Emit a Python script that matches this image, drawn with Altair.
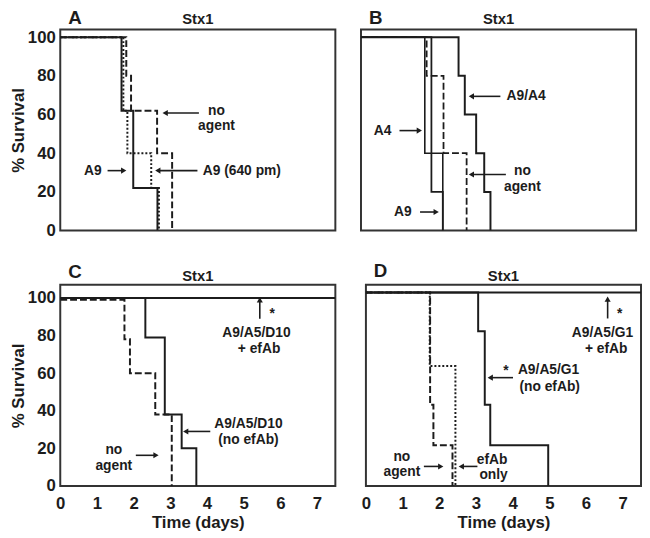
import altair as alt
import pandas as pd

# ---------------- data ----------------
# Panel A
A_a9_t = [0, 1.67, 1.99, 2.65]
A_a9_s = [100, 62, 22, 0]
A_a9_640_t = [0, 1.72, 1.83, 2.48, 2.69]
A_a9_640_s = [100, 62, 40, 22, 0]
A_noagent_t = [0, 1.80, 1.93, 2.64, 3.05]
A_noagent_s = [100, 80, 62, 40, 0]

# Panel B
B_a4_t = [0, 1.74, 2.23]
B_a4_s = [100, 40, 0]
B_a9_t = [0, 1.92, 2.23]
B_a9_s = [100, 20, 0]
B_noagent_t = [0, 1.79, 2.25, 2.88]
B_noagent_s = [100, 80, 40, 0]
B_a9a4_t = [0, 2.66, 2.83, 3.14, 3.36, 3.53]
B_a9a4_s = [100, 80, 60, 40, 20, 0]

# Panel C
C_efab_t = [0, 7.5]
C_efab_s = [100, 100]
C_noefab_t = [0, 2.32, 2.85, 3.31, 3.71]
C_noefab_s = [100, 79, 38, 20, 0]
C_noagent_t = [0, 1.75, 1.90, 2.59, 3.04]
C_noagent_s = [99, 78, 60, 38, 0]

# Panel D
D_efab_t = [0, 7.5]
D_efab_s = [100, 100]
D_noefab_t = [0, 3.06, 3.24, 3.39, 4.97]
D_noefab_s = [100, 80, 42, 21, 0]
D_noagent_t = [0, 1.75, 1.84, 2.36]
D_noagent_s = [100, 42, 21, 0]
D_efabonly_t = [0, 1.74, 2.44]
D_efabonly_s = [100, 62, 0]

x_ticks = [0, 1, 2, 3, 4, 5, 6, 7]
y_ticks = [0, 20, 40, 60, 80, 100]
panel_title = "Stx1"

# annotation labels (text, day, % survival)
A_labels = [("no", 4.26, 62), ("agent", 4.26, 54), ("A9", 0.89, 31), ("A9 (640 pm)", 4.95, 31)]
A_arrows = [(3.78, 60.8, 2.86, 60.8), (1.29, 31, 1.73, 31), (3.74, 31, 2.66, 31)]
B_labels = [("A9/A4", 4.50, 69.4), ("no", 4.40, 30.6), ("agent", 4.40, 22.5), ("A4", 0.59, 51.7), ("A9", 1.14, 9.6)]
B_arrows = [(3.80, 69.4, 3.01, 69.4), (3.95, 29, 3.01, 29), (1.05, 51.7, 1.59, 51.7), (1.61, 9.6, 2.05, 9.6)]
C_labels = [("*", 5.78, 91.5), ("A9/A5/D10", 5.35, 81.3), ("+ efAb", 5.42, 72.7),
            ("A9/A5/D10", 5.13, 32.9), ("(no efAb)", 5.13, 24.2), ("no", 1.46, 19), ("agent", 1.46, 10.4)]
C_arrows = [(5.44, 89, 5.44, 99), (4.09, 29, 3.42, 29), (2.06, 16.3, 2.61, 16.3)]
D_labels = [("*", 6.92, 89), ("A9/A5/G1", 6.45, 79), ("+ efAb", 6.55, 70.6), ("*", 3.82, 59.5),
            ("A9/A5/G1", 4.98, 59.7), ("(no efAb)", 5.01, 51.3), ("no", 0.98, 15.1), ("agent", 0.98, 7.1),
            ("efAb", 3.44, 13.5), ("only", 3.48, 5.5)]
D_arrows = [(6.59, 86.6, 6.59, 96.6), (4.01, 56, 3.39, 56), (1.58, 10.1, 2.04, 10.1), (3.04, 10.1, 2.60, 10.1)]

# ---------------- styling ----------------
FONT = "Liberation Sans"
INK = "#1c1c1c"
SOLID, DASH, DOT = None, [7, 3], [2, 2]
W, H = 279, 204


def head_shape(x1, y1, x2, y2):
    if abs(x2 - x1) > 1e-9:
        return "triangle-right" if x2 > x1 else "triangle-left"
    return "triangle-up" if y2 > y1 else "triangle-down"


def panel(letter, series, labels, arrows, ydom, show_x, show_y, letter_y, title_y):
    xs = alt.Scale(domain=[0, 7.5], nice=False, zero=False)
    ys = alt.Scale(domain=ydom, nice=False, zero=False)
    if show_x:
        xax = alt.Axis(values=x_ticks, title="Time (days)", format="d", grid=False, ticks=False,
                       domain=False, labelFontSize=17, labelFontWeight="bold", labelFont=FONT,
                       labelColor=INK, titleFontSize=17, titleFontWeight="bold", titleFont=FONT,
                       titleColor=INK, labelPadding=10, titlePadding=3, labelFlush=False)
    else:
        xax = None
    if show_y:
        yax = alt.Axis(values=y_ticks, title="% Survival", format="d", grid=False, ticks=False,
                       domain=False, labelFontSize=17, labelFontWeight="bold", labelFont=FONT,
                       labelColor=INK, titleFontSize=17, titleFontWeight="bold", titleFont=FONT,
                       titleColor=INK, labelPadding=5, titlePadding=0)
    else:
        yax = None

    def X(f):
        return alt.X(f, scale=xs, axis=xax)

    def Y(f):
        return alt.Y(f, scale=ys, axis=yax)

    layers = []
    for t, s, dash, w in series:
        df = pd.DataFrame({"x": t, "y": s})
        kw = dict(interpolate="step-after", color=INK, strokeWidth=w, clip=True)
        if dash:
            kw["strokeDash"] = dash
        layers.append(alt.Chart(df).mark_line(**kw).encode(x=X("x:Q"), y=Y("y:Q")))

    adf = pd.DataFrame([{"x": a[0], "y": a[1], "x2": a[2], "y2": a[3],
                         "shape": head_shape(*a)} for a in arrows])
    layers.append(alt.Chart(adf).mark_rule(color=INK, strokeWidth=1.6).encode(
        x=X("x:Q"), y=Y("y:Q"), x2="x2:Q", y2="y2:Q"))
    layers.append(alt.Chart(adf).mark_point(filled=True, size=38, color=INK, opacity=1).encode(
        x=X("x2:Q"), y=Y("y2:Q"), shape=alt.Shape("shape:N", scale=None)))

    tdf = pd.DataFrame(labels, columns=["label", "x", "y"])
    layers.append(alt.Chart(tdf).mark_text(font=FONT, fontWeight="bold", fontSize=14, color=INK).encode(
        x=X("x:Q"), y=Y("y:Q"), text="label:N"))

    ldf = pd.DataFrame({"label": [letter], "x": [0.4], "y": [letter_y]})
    layers.append(alt.Chart(ldf).mark_text(font=FONT, fontWeight="bold", fontSize=19, color=INK).encode(
        x=X("x:Q"), y=Y("y:Q"), text="label:N"))

    hdf = pd.DataFrame({"label": [panel_title], "x": [3.75], "y": [title_y]})
    layers.append(alt.Chart(hdf).mark_text(font=FONT, fontWeight="bold", fontSize=15, color=INK).encode(
        x=X("x:Q"), y=Y("y:Q"), text="label:N"))

    return alt.layer(*layers).properties(width=W, height=H)


pA = panel("A", [(A_a9_t, A_a9_s, SOLID, 2), (A_noagent_t, A_noagent_s, DASH, 2),
                 (A_a9_640_t, A_a9_640_s, DOT, 2)], A_labels, A_arrows, [0, 104], False, True, 110, 109.5)
pB = panel("B", [(B_a4_t, B_a4_s, SOLID, 1.6), (B_a9_t, B_a9_s, SOLID, 1.8),
                 (B_noagent_t, B_noagent_s, DASH, 1.8), (B_a9a4_t, B_a9a4_s, SOLID, 2)],
           B_labels, B_arrows, [0, 104], False, False, 110, 109.5)
pC = panel("C", [(C_efab_t, C_efab_s, SOLID, 2), (C_noefab_t, C_noefab_s, SOLID, 2),
                 (C_noagent_t, C_noagent_s, DASH, 2)], C_labels, C_arrows, [0, 107], True, True, 114, 111.5)
pD = panel("D", [(D_efab_t, D_efab_s, SOLID, 2), (D_noefab_t, D_noefab_s, SOLID, 2),
                 (D_noagent_t, D_noagent_s, DASH, 2), (D_efabonly_t, D_efabonly_s, DOT, 2)],
           D_labels, D_arrows, [0, 104], True, False, 111, 108.5)

chart = alt.vconcat(
    alt.hconcat(pA, pB, spacing=24),
    alt.hconcat(pC, pD, spacing=24),
    spacing=22,
).properties(padding={"left": 0, "top": -4, "right": 0, "bottom": 0}).configure_view(
    stroke="#333333", strokeWidth=2
)

chart.save("out.html", embed_options={"renderer": "svg", "actions": False})
